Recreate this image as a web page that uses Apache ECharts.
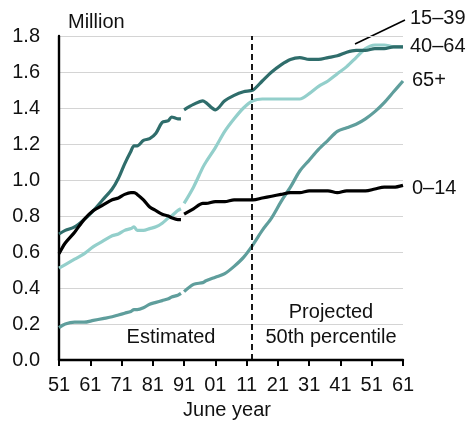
<!DOCTYPE html>
<html><head><meta charset="utf-8">
<script src="https://cdn.jsdelivr.net/npm/echarts@6/dist/echarts.min.js"></script>
<style>html,body{margin:0;padding:0;background:#fff}#c{width:471px;height:421px}</style>
</head><body><div id="c"></div>
<script>
const years = [1951,1953,1956,1959,1962,1965,1968,1970,1972,1974,1975,1976,1978,1980,1982,1984,1986,1987,1989,1990,
  1990.5,
  1991,1994,1997,1998,2001,2004,2007,2010,2013,2016,2019,2022,2025,2028,2031,2034,2037,2040,2043,2046,2049,2052,2055,2058,2061];
const age15to39 = [0.70,0.72,0.74,0.78,0.83,0.89,0.95,1.01,1.09,1.16,1.19,1.19,1.22,1.23,1.26,1.32,1.33,1.35,1.34,1.34,
  null,
  1.39,1.42,1.44,1.43,1.39,1.44,1.47,1.49,1.50,1.55,1.60,1.64,1.67,1.68,1.67,1.67,1.68,1.69,1.71,1.72,1.72,1.73,1.73,1.74,1.74];
const age40to64 = [0.51,0.53,0.56,0.59,0.63,0.66,0.69,0.70,0.72,0.73,0.74,0.72,0.72,0.73,0.74,0.76,0.79,0.80,0.83,0.84,
  null,
  0.87,0.96,1.07,1.10,1.18,1.27,1.34,1.40,1.44,1.45,1.45,1.45,1.45,1.45,1.48,1.52,1.55,1.59,1.63,1.68,1.73,1.75,1.75,1.74,1.74];
const age65plus = [0.18,0.20,0.21,0.21,0.22,0.23,0.24,0.25,0.26,0.27,0.28,0.28,0.29,0.31,0.32,0.33,0.34,0.35,0.36,0.37,
  null,
  0.38,0.42,0.43,0.44,0.46,0.48,0.52,0.57,0.64,0.72,0.79,0.88,0.96,1.05,1.11,1.17,1.22,1.27,1.29,1.31,1.34,1.38,1.43,1.49,1.55];
const age0to14 = [0.59,0.65,0.71,0.78,0.83,0.86,0.89,0.90,0.92,0.93,0.93,0.92,0.89,0.85,0.83,0.81,0.80,0.79,0.78,0.78,
  null,
  0.81,0.84,0.87,0.87,0.88,0.88,0.89,0.89,0.89,0.90,0.91,0.92,0.93,0.93,0.94,0.94,0.94,0.93,0.94,0.94,0.94,0.95,0.96,0.96,0.97];
const projectionStart = 2012.6;
const seriesNames = ['15–39','40–64','65+','0–14'];

const FONT = 'Liberation Sans, Arial, sans-serif';
const FS = 20;
const pairs = arr => years.map((y,i)=>[y, arr[i]]);
const mk = (name, arr, color, extra) => Object.assign({
  name, type:'line', data: pairs(arr), showSymbol:false, connectNulls:false, smooth:0.3,
  lineStyle:{color, width:3.2}, itemStyle:{color}, z:3
}, extra||{});
const txt = (text, x, y, align) => ({type:'text', x, y,
  style:{text, font:FS+'px '+FONT, fill:'#111', align:align||'left', verticalAlign:'middle'}});

const chart = echarts.init(document.getElementById('c'), null, {renderer:'canvas'});
chart.setOption({
  animation:false,
  grid:{left:59, right:68, top:36, bottom:61, containLabel:false},
  xAxis:{type:'value', min:1951, max:2061, interval:10,
    axisLine:{show:true, onZero:false, lineStyle:{color:'#000', width:2.4}},
    axisTick:{show:true, inside:false, length:6, lineStyle:{color:'#000', width:2}},
    axisLabel:{margin:15, color:'#111', fontSize:FS, fontFamily:FONT,
      formatter:v=>String(v%100).padStart(2,'0')},
    splitLine:{show:false}},
  yAxis:{type:'value', min:0, max:1.8, interval:0.2,
    axisLine:{show:true, lineStyle:{color:'#000', width:2.4}},
    axisTick:{show:false},
    axisLabel:{margin:19, color:'#111', fontSize:FS, fontFamily:FONT, formatter:v=>v.toFixed(1)},
    splitLine:{show:true, lineStyle:{color:'#d4d4d4', width:1}}},
  series:[
    mk(seriesNames[2], age65plus, '#5f9e9c'),
    mk(seriesNames[1], age40to64, '#93cfcb'),
    mk(seriesNames[0], age15to39, '#2f6d6b'),
    mk(seriesNames[3], age0to14, '#000000', {markLine:{silent:true, symbol:'none', label:{show:false},
      lineStyle:{color:'#000', type:[6,4], width:1.8}, data:[{xAxis:projectionStart}]}})
  ],
  graphic:[
    txt('Million', 68, 22),
    txt('Estimated', 171, 337, 'center'),
    txt('Projected', 331, 312, 'center'),
    txt('50th percentile', 331, 337, 'center'),
    txt('June year', 227, 410, 'center'),
    txt(seriesNames[0], 410, 18),
    txt(seriesNames[1], 410, 46),
    txt(seriesNames[2], 412, 80),
    txt(seriesNames[3], 412, 188),
    {type:'line', shape:{x1:355, y1:44, x2:405, y2:20}, style:{stroke:'#000', lineWidth:1.5}}
  ]
});
</script></body></html>
